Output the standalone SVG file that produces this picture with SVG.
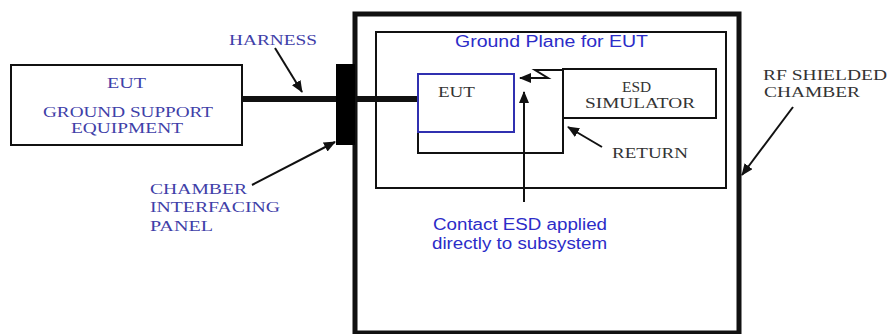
<svg xmlns="http://www.w3.org/2000/svg" width="888" height="334" viewBox="0 0 888 334">
<defs>
<style>
.serif{font-family:"Liberation Serif","Times New Roman",serif;font-size:14px}
.sans{font-family:"Liberation Sans",Arial,sans-serif;font-size:16px}
.blue{fill:#4040a8}
.sblue{fill:#2c2cc8}
.dark{fill:#333}
.box{fill:#fff;stroke:#111;stroke-width:2}
.ln{fill:none;stroke:#111;stroke-width:2}
.ptr{fill:none;stroke:#111;stroke-width:2}
</style>
<marker id="ah" markerUnits="userSpaceOnUse" markerWidth="12" markerHeight="10" refX="11" refY="5" orient="auto">
<path d="M0,0 L12,5 L0,10 Z" fill="#111"/>
</marker>
</defs>
<rect width="888" height="334" fill="#fff"/>

<g id="chamber">
<rect x="355" y="14" width="384" height="319" fill="#fff" stroke="#111" stroke-width="5"/>
</g>
<g id="ground-plane">
<rect x="376" y="32" width="350" height="156" class="box" stroke-width="2.5"/>
<text class="sans sblue" x="455" y="47" textLength="193" lengthAdjust="spacingAndGlyphs">Ground Plane for EUT</text>
</g>
<g id="eut-gse">
<rect x="11" y="65" width="231" height="80" class="box"/>
<text class="serif blue" x="107" y="88" textLength="39" lengthAdjust="spacingAndGlyphs">EUT</text>
<text class="serif blue" x="43" y="117" textLength="170" lengthAdjust="spacingAndGlyphs">GROUND SUPPORT</text>
<text class="serif blue" x="71" y="133" textLength="112" lengthAdjust="spacingAndGlyphs">EQUIPMENT</text>
</g>
<g id="esd-simulator">
<rect x="563" y="69" width="153" height="49" class="box"/>
<text class="serif dark" x="622" y="92" textLength="29" lengthAdjust="spacingAndGlyphs">ESD</text>
<text class="serif dark" x="585" y="108" textLength="110" lengthAdjust="spacingAndGlyphs">SIMULATOR</text>
</g>

<g id="connectors">
<line x1="242" y1="99" x2="418" y2="99" stroke="#111" stroke-width="6"/>
<polyline class="ln" points="418,132 418,153 563,153 563,118"/>
<polyline class="ln" points="563,70 535,70 548,78 520,78" marker-end="url(#ah)"/>
<line class="ln" x1="524" y1="202" x2="524" y2="92" marker-end="url(#ah)"/>
<line class="ptr" x1="275" y1="48" x2="302" y2="92" marker-end="url(#ah)"/>
<line class="ptr" x1="252" y1="185" x2="335" y2="142" marker-end="url(#ah)"/>
<line class="ptr" x1="602" y1="147" x2="568" y2="127" marker-end="url(#ah)"/>
<line class="ptr" x1="793" y1="107" x2="742" y2="175" marker-end="url(#ah)"/>
</g>

<g id="eut">
<rect x="418" y="74" width="96" height="58" fill="none" stroke="#3030b0" stroke-width="2"/>
<text class="serif dark" x="438" y="97" textLength="37" lengthAdjust="spacingAndGlyphs">EUT</text>
</g>
<g id="panel">
<rect x="336" y="64" width="19" height="81" fill="#000"/>
</g>

<g id="labels">
<text class="serif blue" x="229" y="45" textLength="88" lengthAdjust="spacingAndGlyphs">HARNESS</text>
<text class="serif blue" x="150" y="194" textLength="97" lengthAdjust="spacingAndGlyphs">CHAMBER</text>
<text class="serif blue" x="150" y="212" textLength="130" lengthAdjust="spacingAndGlyphs">INTERFACING</text>
<text class="serif blue" x="150" y="231" textLength="63" lengthAdjust="spacingAndGlyphs">PANEL</text>
<text class="serif dark" x="612" y="158" textLength="76" lengthAdjust="spacingAndGlyphs">RETURN</text>
<text class="serif dark" x="763" y="80" textLength="124" lengthAdjust="spacingAndGlyphs">RF SHIELDED</text>
<text class="serif dark" x="764" y="97" textLength="96" lengthAdjust="spacingAndGlyphs">CHAMBER</text>
<text class="sans sblue" x="433" y="230" textLength="174" lengthAdjust="spacingAndGlyphs">Contact ESD applied</text>
<text class="sans sblue" x="432" y="249" textLength="175" lengthAdjust="spacingAndGlyphs">directly to subsystem</text>
</g>
</svg>
